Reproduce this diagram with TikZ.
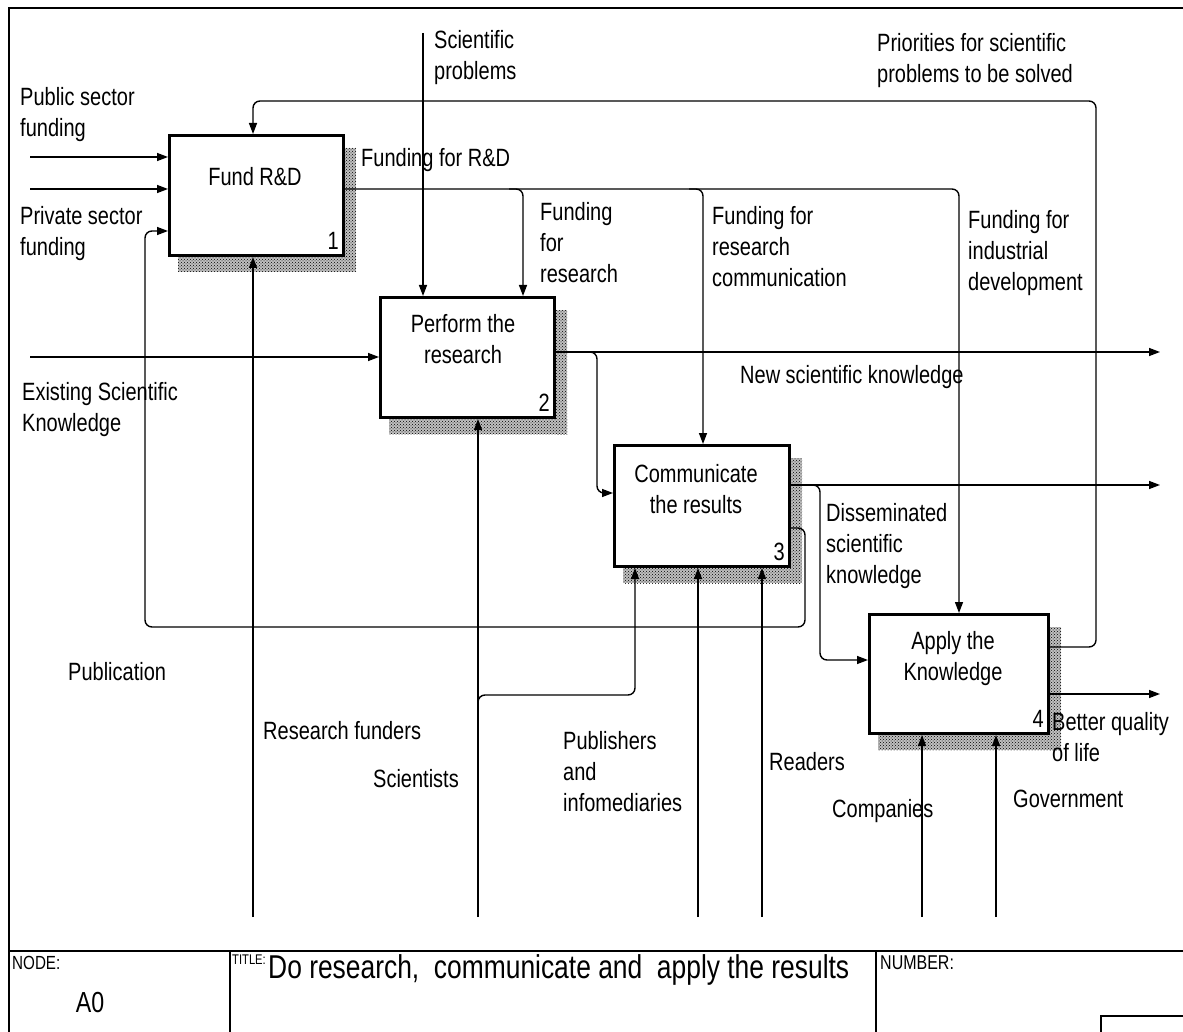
\documentclass[tikz,border=0pt]{standalone}
\usepackage{fontspec}
\setmainfont{Liberation Sans}[FakeStretch=0.8]
\usetikzlibrary{arrows.meta,patterns,calc,backgrounds}

\begin{document}
\begin{tikzpicture}[x=1pt,y=-1pt,font=\fontsize{25}{31}\selectfont]
        \tikzstyle{activity}=[draw=black,line width=3pt,anchor=north west,inner sep=0pt]
        \tikzstyle{hatch}=[preaction={fill=black!25},pattern=crosshatch dots,pattern color=black]
        \tikzstyle{flow}=[draw,line width=1.4pt,rounded corners=7pt,-{Triangle[length=11pt,width=8pt]}]
        \tikzstyle{lbl}=[anchor=north west,inner sep=0pt,align=left]
        \tikzstyle{title}=[anchor=north,inner sep=0pt,align=center]
        \tikzstyle{num}=[anchor=south east,inner sep=0pt]
        \tikzstyle{border}=[draw,line width=2pt]
        \useasboundingbox (0,0) rectangle (1183,1032);
       \begin{scope}
         \node [activity,minimum width=174pt,minimum height=120pt] (b1) at (168,134) {};
         \node [activity,minimum width=174pt,minimum height=120pt] (b2) at (379,296) {};
         \node [activity,minimum width=175pt,minimum height=121pt] (b3) at (613,444) {};
         \node [activity,minimum width=179pt,minimum height=119pt] (b4) at (868,613) {};
         \node [title] (t1) at (255,167) {Fund R\&D};
         \node [title] (t2) at (463,314) {Perform the\\research};
         \node [title] (t3) at (696,464) {Communicate\\the results};
         \node [title] (t4) at (953,631) {Apply the\\Knowledge};
         \node [num] (n1) at ($(b1.south east)+(-6,-7)$) {1};
         \node [num] (n2) at ($(b2.south east)+(-6,-7)$) {2};
         \node [num] (n3) at ($(b3.south east)+(-6,-7)$) {3};
         \node [num] (n4) at ($(b4.south east)+(-6,-7)$) {4};
         \begin{scope}[on background layer]
           \foreach \b in {b1,b2,b3,b4} {
             \fill[hatch] ($(\b.north east)+(0,14)$) rectangle ($(\b.south east)+(11,15)$);
             \fill[hatch] ($(\b.south west)+(10,0)$) rectangle ($(\b.south east)+(11,15)$);
           }
         \end{scope}
       \end{scope}
       % inputs and controls
       \coordinate (pub) at (30,157);
       \coordinate (priv) at (30,189);
       \coordinate (sci) at (423,33);
       \coordinate (exist) at (30,357);
       \coordinate (c2) at (523,189);
       \coordinate (c3) at (703,189);
       \coordinate (c4) at (959,189);
       \coordinate (p1) at (1096,647);
       \coordinate (p2) at (253,101);
       \path[flow] (pub) -- (pub -| b1.west);
       \path[flow] (priv) -- (priv -| b1.west);
       \path[flow] (sci) -- (sci |- b2.north);
       \path[flow] (exist) -- (exist -| b2.west);
       \path[flow] (priv -| b1.east) -- (c4) -- (c4 |- b4.north);
       \path[flow] ($(c2)+(-14,0)$) -- (c2) -- (c2 |- b2.north);
       \path[flow] ($(c3)+(-14,0)$) -- (c3) -- (c3 |- b3.north);
       \path[flow] (p1 -| b4.east) -- (p1) -- (p1 |- p2) -- (p2) -- (p2 |- b1.north);
       % outputs
       \coordinate (o2) at (1160,352);
       \coordinate (o3) at (1160,485);
       \coordinate (o4) at (1160,694);
       \coordinate (k3) at (597,493);
       \coordinate (k4) at (820,660);
       \coordinate (f1) at (805,528);
       \coordinate (f2) at (145,627);
       \coordinate (f3) at (145,231);
       \path[flow] (o2 -| b2.east) -- (o2);
       \path[flow] (o3 -| b3.east) -- (o3);
       \path[flow] (o4 -| b4.east) -- (o4);
       \path[flow] ($(k3 |- o2)+(-14,0)$) -- (k3 |- o2) -- (k3) -- (k3 -| b3.west);
       \path[flow] ($(k4 |- o3)+(-14,0)$) -- (k4 |- o3) -- (k4) -- (k4 -| b4.west);
       \path[flow] (f1 -| b3.east) -- (f1) -- (f1 |- f2) -- (f2) -- (f3) -- (f3 -| b1.west);
       % mechanisms
       \coordinate (m1) at (253,917);
       \coordinate (m2) at (478,917);
       \coordinate (m2b) at (635,695);
       \coordinate (m3) at (698,917);
       \coordinate (m4) at (762,917);
       \coordinate (m5) at (922,917);
       \coordinate (m6) at (996,917);
       \path[flow] (m1) -- (m1 |- b1.south);
       \path[flow] (m2) -- (m2 |- b2.south);
       \path[flow] ($(m2 |- m2b)+(0,14)$) -- (m2 |- m2b) -- (m2b) -- (m2b |- b3.south);
       \path[flow] (m3) -- (m3 |- b3.south);
       \path[flow] (m4) -- (m4 |- b3.south);
       \path[flow] (m5) -- (m5 |- b4.south);
       \path[flow] (m6) -- (m6 |- b4.south);
       % labels
       \node[lbl] (l1) at (20,87) {Public sector\\funding};
       \node[lbl] (l2) at (20,206) {Private sector\\funding};
       \node[lbl] (l3) at (434,30) {Scientific\\problems};
       \node[lbl] (l4) at (361,148) {Funding for R\&D};
       \node[lbl] (l5) at (540,202) {Funding\\for\\research};
       \node[lbl] (l6) at (712,206) {Funding for\\research\\communication};
       \node[lbl] (l7) at (877,33) {Priorities for scientific\\problems to be solved};
       \node[lbl] (l8) at (968,210) {Funding for\\industrial\\development};
       \node[lbl] (l9) at (740,365) {New scientific knowledge};
       \node[lbl] (l10) at (22,382) {Existing Scientific\\Knowledge};
       \node[lbl] (l11) at (826,503) {Disseminated\\scientific\\knowledge};
       \node[lbl] (l12) at (68,662) {Publication};
       \node[lbl] (l13) at (263,721) {Research funders};
       \node[lbl] (l14) at (373,769) {Scientists};
       \node[lbl] (l15) at (563,731) {Publishers\\and\\infomediaries};
       \node[lbl] (l16) at (769,752) {Readers};
       \node[lbl] (l17) at (832,799) {Companies};
       \node[lbl] (l18) at (1013,790) {Government};
       \node[lbl] (l19) at (1052,712) {Better quality\\of life};
       % frame and title block
       \draw[border] (9,1032) -- (9,8) -- (1183,8);
       \draw[border] (9,951) -- (1183,951);
       \draw[border] (230,951) -- (230,1032);
       \draw[border] (876,951) -- (876,1032);
       \draw[border] (1101,1032) -- (1101,1016) -- (1183,1016);
       \node[lbl,font=\fontsize{19}{21}\selectfont] (node) at (12,956) {NODE:};
       \node[inner sep=0pt,font=\fontsize{29}{31}\selectfont] (a0) at (90,1003) {A0};
       \node[lbl,font=\fontsize{14}{16}\selectfont] (ttl) at (232,955) {TITLE:};
       \node[lbl,font=\fontsize{33}{35}\selectfont] (name) at (268,954) {Do research,\ \ communicate and\ \ apply the results};
       \node[lbl,font=\fontsize{20}{22}\selectfont] (number) at (880,956) {NUMBER:};
      \end{tikzpicture}
\end{document}
